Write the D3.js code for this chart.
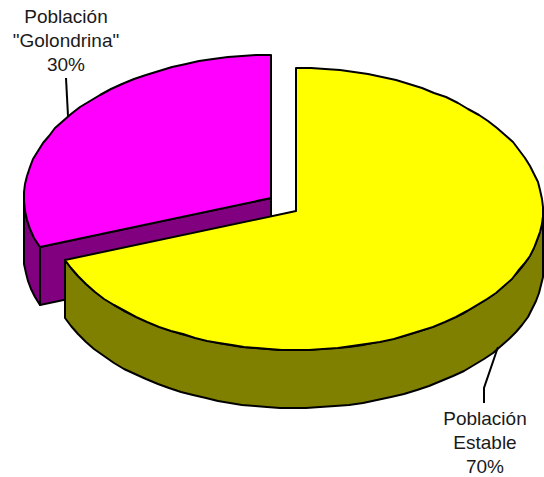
<!DOCTYPE html>
<html>
<head>
<meta charset="utf-8">
<script src="https://cdn.jsdelivr.net/npm/d3@7"></script>
<style>
body { margin: 0; background: #fff; }
text { font-family: "Liberation Sans", Arial, sans-serif; font-size: 19px; fill: #1a1a1a; text-anchor: middle; }
</style>
</head>
<body>
<svg id="pie"></svg>
<script>
const categories = ['Población Estable', 'Población "Golondrina"'];
const values = [70, 30];
const labelLines = [['Población', 'Estable', '70%'], ['Población', '"Golondrina"', '30%']];
const topColors = ['#ffff00', '#ff00ff'];
const sideColors = ['#808000', '#800080'];

const size = {w: 544, h: 477};
const depth = 58;
const rx = 247, ryTop = 143, ryBottom = 139;
// each slice is pulled out of the pie, so it has its own centre
const centres = [{x: 296, y: 211}, {x: 271, y: 198}];
const labelPos = [{x: 485, y: 425}, {x: 66, y: 23}];
const leaders = [[[498, 347], [484, 388], [484, 403]], [[66, 78], [68, 116]]];

const svg = d3.select('svg#pie')
    .attr('width', size.w)
    .attr('height', size.h);

const slices = d3.pie().sort(null).value(d => d)(values);
const line = d3.line();

function project(i, a, drop) {
    // lower left quarter of the original is pulled a little towards the bottom
    if (a > Math.PI && a < Math.PI * 1.5) a -= 0.075 * Math.sin(2 * (a - Math.PI));
    let sx = d3.scaleLinear().domain([-1, 1]).range([centres[i].x - rx, centres[i].x + rx]);
    let sy = d3.scaleLinear().domain([-1, 0, 1])
        .range([centres[i].y + drop - ryTop, centres[i].y + drop, centres[i].y + drop + ryBottom]);
    // whole pixels and a coarse step give the bumpy outline of the original
    return [Math.round(sx(Math.sin(a))), Math.round(sy(-Math.cos(a)))];
}

function arcPoints(i, a0, a1, drop) {
    let n = Math.max(2, Math.ceil(Math.abs(a1 - a0) / 0.06));
    return d3.range(n + 1).map(k => project(i, a0 + (a1 - a0) * k / n, drop));
}

function drawShape(pts, fill) {
    svg.append('path')
        .attr('d', line(pts) + 'Z')
        .attr('fill', fill)
        .attr('stroke', '#000')
        .attr('stroke-width', 2)
        .attr('stroke-linejoin', 'round');
}

function drawSide(i, a0, a1) {
    drawShape(arcPoints(i, a0, a1, 0).concat(arcPoints(i, a1, a0, depth)), sideColors[i]);
}

function drawCut(i, a) {
    let c = centres[i];
    let p = project(i, a, 0);
    drawShape([[c.x, c.y], p, [p[0], p[1] + depth], [c.x, c.y + depth]], sideColors[i]);
}

function drawTop(i, s) {
    let c = centres[i];
    drawShape([[c.x, c.y]].concat(arcPoints(i, s.startAngle, s.endAngle, 0)), topColors[i]);
}

// back slice first, the big yellow one sits in front of it
let g = slices[1];
drawSide(1, g.startAngle, Math.PI * 1.5);
drawCut(1, g.startAngle);
drawTop(1, g);

let e = slices[0];
drawSide(0, Math.PI / 2, e.endAngle);
drawTop(0, e);

// leader lines
leaders.forEach(pts => {
    svg.append('path')
        .attr('d', line(pts))
        .attr('fill', 'none')
        .attr('stroke', '#000')
        .attr('stroke-width', 2);
});

// labels
labelLines.forEach((lines, i) => {
    svg.append('text')
        .attr('aria-label', categories[i])
        .selectAll('tspan')
        .data(lines)
        .join('tspan')
        .attr('x', labelPos[i].x)
        .attr('y', (d, k) => labelPos[i].y + k * 24)
        .text(d => d);
});
</script>
</body>
</html>
